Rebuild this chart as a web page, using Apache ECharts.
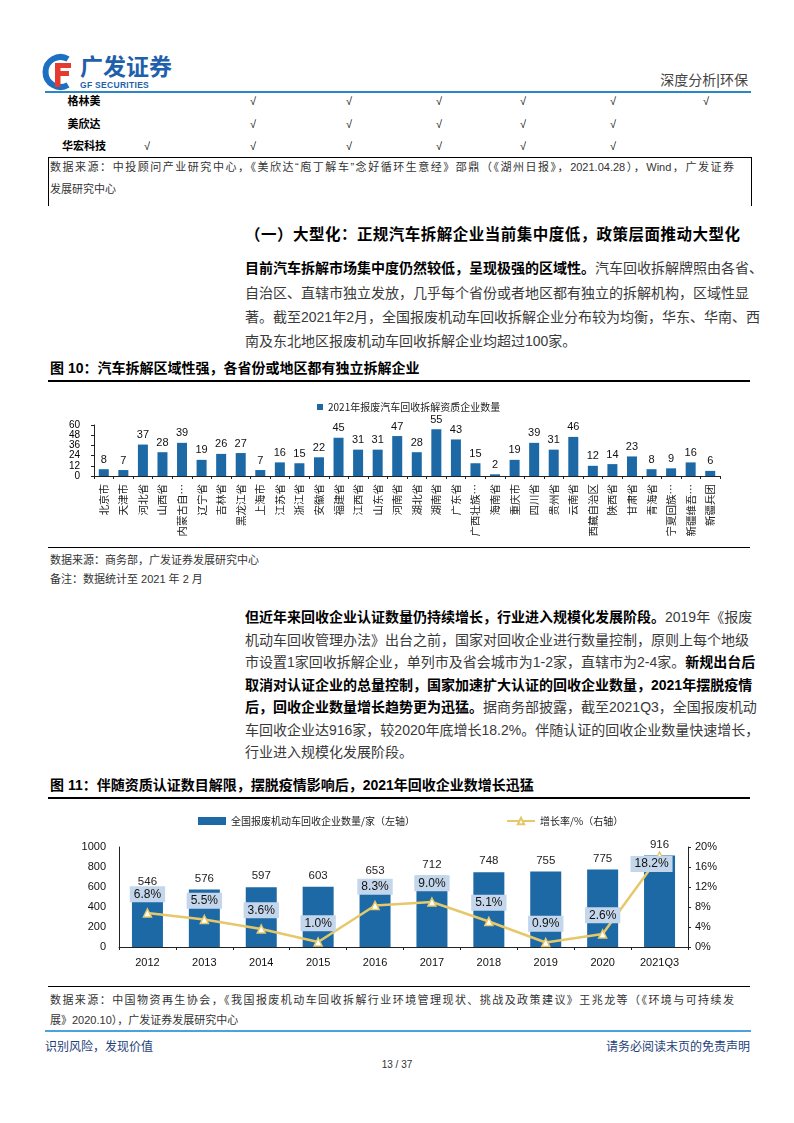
<!DOCTYPE html>
<html>
<head>
<meta charset="utf-8">
<title>汽车拆解</title>
<script src="https://cdn.jsdelivr.net/npm/echarts@6.0.0/dist/echarts.min.js"></script>
<style>
  body { margin: 0; background: #fff; }
  #page { position: relative; width: 794px; height: 1123px; background: #fff; overflow: hidden;
    font-family: "Liberation Sans", "Noto Sans CJK SC", sans-serif; color: #333; }
  .t { position: absolute; white-space: nowrap; line-height: 20px; }
  .j { text-align: justify; text-align-last: justify; }
  .p { font-size: 14px; color: #3a3a3a; }
  .p b { color: #000; }
  .src { font-size: 11px; color: #333; }
  .hr { position: absolute; left: 48px; width: 702px; background: #000; }
  .chk { position: absolute; font-size: 11px; color: #000; line-height: 14px; }
  .rowlab { position: absolute; font-size: 11px; font-weight: bold; color: #000; width: 60px; text-align: center; line-height: 14px; }
  .chart { position: absolute; left: 0; width: 794px; }
</style>
</head>
<body>
<div id="page">
  <!-- header -->
  <svg style="position:absolute;left:42px;top:52px" width="36" height="40" viewBox="0 0 36 40">
    <path d="M26 7 A15 15 0 1 0 26 33" fill="none" stroke="#1d6fc0" stroke-width="6"/>
    <path d="M13 11 H29 V16 H18.5 V19 H27 V24 H18.5 V35 H13 Z" fill="#e53a2f"/>
  </svg>
  <div class="t" style="left:80px;top:52px;font-size:23px;font-weight:bold;color:#1f5fab;line-height:30px;">广发证券</div>
  <div class="t" style="left:80px;top:80px;font-size:8.5px;font-weight:bold;color:#1f5fab;line-height:10px;letter-spacing:0.3px;">GF SECURITIES</div>
  <div class="t" style="right:46px;top:70px;font-size:14px;color:#444;">深度分析|环保</div>
  <div style="position:absolute;left:45px;top:91px;width:706px;height:2px;background:#2a86c8;"></div>

  <!-- table tail -->
  <div class="rowlab" style="left:54px;top:94px;">格林美</div>
  <div class="rowlab" style="left:54px;top:117px;">美欣达</div>
  <div class="rowlab" style="left:54px;top:139px;">华宏科技</div>
  <div id="checks"></div>

  <div style="position:absolute;left:48px;top:157px;width:702px;height:48px;border:1px solid #000;border-bottom:none;"></div>
  <div class="t src j" style="left:50px;top:157px;width:684px;">数据来源：中投顾问产业研究中心，《美欣达“庖丁解车”念好循环生意经》邵鼎（《湖州日报》，2021.04.28），Wind，广发证券</div>
  <div class="t src" style="left:50px;top:179px;">发展研究中心</div>

  <!-- section heading -->
  <div class="t j" style="left:245px;top:225px;width:495px;font-size:15.5px;font-weight:bold;color:#000;">（一）大型化：正规汽车拆解企业当前集中度低，政策层面推动大型化</div>

  <div class="t p j" style="left:245px;top:258px;width:503px;"><b>目前汽车拆解市场集中度仍然较低，呈现极强的区域性。</b>汽车回收拆解牌照由各省、</div>
  <div class="t p j" style="left:245px;top:283px;width:503px;">自治区、直辖市独立发放，几乎每个省份或者地区都有独立的拆解机构，区域性显</div>
  <div class="t p j" style="left:245px;top:307px;width:503px;">著。截至2021年2月，全国报废机动车回收拆解企业分布较为均衡，华东、华南、西</div>
  <div class="t p" style="left:245px;top:331px;">南及东北地区报废机动车回收拆解企业均超过100家。</div>

  <!-- figure 10 -->
  <div class="t" style="left:50px;top:358px;font-size:14px;font-weight:bold;color:#000;">图 10：汽车拆解区域性强，各省份或地区都有独立拆解企业</div>
  <div class="hr" style="top:380px;height:1.5px;"></div>
  <div id="chart10" class="chart" style="top:385px;height:160px;"></div>
  <div class="hr" style="top:547px;height:1px;"></div>
  <div class="t src" style="left:50px;top:550px;">数据来源：商务部，广发证券发展研究中心</div>
  <div class="t src" style="left:50px;top:569px;">备注：数据统计至 2021 年 2 月</div>

  <div class="t p j" style="left:245px;top:607px;width:503px;"><b>但近年来回收企业认证数量仍持续增长，行业进入规模化发展阶段。</b>2019年《报废</div>
  <div class="t p j" style="left:245px;top:630px;width:503px;">机动车回收管理办法》出台之前，国家对回收企业进行数量控制，原则上每个地级</div>
  <div class="t p j" style="left:245px;top:652px;width:503px;">市设置1家回收拆解企业，单列市及省会城市为1-2家，直辖市为2-4家。<b>新规出台后</b></div>
  <div class="t p j" style="left:245px;top:675px;width:503px;"><b>取消对认证企业的总量控制，国家加速扩大认证的回收企业数量，2021年摆脱疫情</b></div>
  <div class="t p j" style="left:245px;top:697px;width:503px;"><b>后，回收企业数量增长趋势更为迅猛。</b>据商务部披露，截至2021Q3，全国报废机动</div>
  <div class="t p j" style="left:245px;top:720px;width:503px;">车回收企业达916家，较2020年底增长18.2%。伴随认证的回收企业数量快速增长，</div>
  <div class="t p" style="left:245px;top:742px;">行业进入规模化发展阶段。</div>

  <!-- figure 11 -->
  <div class="t" style="left:50px;top:775px;font-size:14px;font-weight:bold;color:#000;">图 11：伴随资质认证数目解限，摆脱疫情影响后，2021年回收企业数增长迅猛</div>
  <div class="hr" style="top:797px;height:1.5px;"></div>
  <div id="chart11" class="chart" style="top:805px;height:180px;"></div>
  <div class="hr" style="top:986px;height:1px;"></div>
  <div class="t src j" style="left:50px;top:990px;width:684px;">数据来源：中国物资再生协会，《我国报废机动车回收拆解行业环境管理现状、挑战及政策建议》王兆龙等（《环境与可持续发</div>
  <div class="t src" style="left:50px;top:1010px;">展》2020.10），广发证券发展研究中心</div>

  <!-- footer -->
  <div style="position:absolute;left:45px;top:1030px;width:706px;height:2px;background:#4aa3df;"></div>
  <div class="t" style="left:45px;top:1037px;font-size:12px;color:#1f3f7a;">识别风险，发现价值</div>
  <div class="t" style="right:44px;top:1037px;font-size:12px;color:#1f3f7a;">请务必阅读末页的免责声明</div>
  <div class="t" style="left:0;width:794px;text-align:center;top:1055px;font-size:10px;color:#333;">13 / 37</div>
</div>

<script>
// 表格尾部的勾选
const checkCols = [148, 254, 350, 440, 524, 614, 707];
const checkRows = [
  { y: 94, cols: [1, 2, 3, 4, 5, 6] },
  { y: 117, cols: [1, 2, 3, 4, 5] },
  { y: 139, cols: [0, 1, 2, 3, 4, 5] }
];

// 图10 数据
const provinces = ['北京市', '天津市', '河北省', '山西省', '内蒙古自治区', '辽宁省', '吉林省', '黑龙江省',
  '上海市', '江苏省', '浙江省', '安徽省', '福建省', '江西省', '山东省', '河南省', '湖北省', '湖南省',
  '广东省', '广西壮族自治区', '海南省', '重庆市', '四川省', '贵州省', '云南省', '西藏自治区',
  '陕西省', '甘肃省', '青海省', '宁夏回族自治区', '新疆维吾尔自治区', '新疆兵团'];
const plantCounts = [8, 7, 37, 28, 39, 19, 26, 27, 7, 16, 15, 22, 45, 31, 31, 47, 28, 55,
  43, 15, 2, 19, 39, 31, 46, 12, 14, 23, 8, 9, 16, 6];

// 图11 数据
const years = ['2012', '2013', '2014', '2015', '2016', '2017', '2018', '2019', '2020', '2021Q3'];
const recyclerCounts = [546, 576, 597, 603, 653, 712, 748, 755, 775, 916];
const growthRates = [6.8, 5.5, 3.6, 1.0, 8.3, 9.0, 5.1, 0.9, 2.6, 18.2];

const checksBox = document.getElementById('checks');
checkRows.forEach(row => {
  row.cols.forEach(c => {
    const d = document.createElement('div');
    d.className = 'chk';
    d.style.left = (checkCols[c] - 4) + 'px';
    d.style.top = row.y + 'px';
    d.textContent = '√';
    checksBox.appendChild(d);
  });
});

const numFont = 'Liberation Sans';
const blue = '#1c69a6';
const gold = '#e6c86a';

const chart10 = echarts.init(document.getElementById('chart10'));
chart10.setOption({
  animation: false,
  legend: {
    left: 312,
    top: 12,
    itemWidth: 6,
    itemHeight: 6,
    icon: 'rect',
    textStyle: { fontSize: 10, color: '#222', fontFamily: 'Noto Sans CJK SC' },
    data: ['2021年报废汽车回收拆解资质企业数量']
  },
  grid: { left: 94, top: 40, width: 626, height: 51 },
  xAxis: {
    type: 'category',
    data: provinces,
    axisLine: { lineStyle: { color: '#222', width: 1 } },
    axisTick: { show: true, inside: false, length: 3, lineStyle: { color: '#222' } },
    axisLabel: {
      interval: 0,
      rotate: 90,
      margin: 8,
      fontSize: 10.5,
      color: '#222',
      fontFamily: 'Noto Sans CJK SC',
      formatter: v => v.length > 5 ? v.slice(0, 4) + '…' : v
    }
  },
  yAxis: {
    type: 'value',
    min: 0,
    max: 60,
    interval: 12,
    splitLine: { show: false },
    axisLine: { show: true, lineStyle: { color: '#222' } },
    axisTick: { show: true, length: 3, lineStyle: { color: '#222' } },
    axisLabel: { fontSize: 10, color: '#000', margin: 14, fontFamily: numFont }
  },
  series: [{
    name: '2021年报废汽车回收拆解资质企业数量',
    type: 'bar',
    data: plantCounts,
    barWidth: 10,
    itemStyle: { color: blue },
    label: {
      show: true,
      position: 'top',
      distance: 4,
      fontSize: 11,
      color: '#111',
      fontFamily: numFont
    }
  }]
});

const chart11 = echarts.init(document.getElementById('chart11'));
chart11.setOption({
  animation: false,
  legend: [{
    left: 193,
    top: 6,
    itemWidth: 28,
    itemHeight: 8,
    icon: 'rect',
    textStyle: { fontSize: 10, color: '#222', fontFamily: 'Noto Sans CJK SC' },
    data: ['全国报废机动车回收企业数量/家（左轴）']
  }, {
    left: 501,
    top: 6,
    itemWidth: 28,
    itemHeight: 8,
    textStyle: { fontSize: 10, color: '#222', fontFamily: 'Noto Sans CJK SC' },
    data: ['增长率/%（右轴）']
  }],
  grid: { left: 119, top: 42, width: 569, height: 100 },
  xAxis: {
    type: 'category',
    data: years,
    axisLine: { lineStyle: { color: '#222' } },
    axisTick: { show: true, length: 3, lineStyle: { color: '#222' } },
    axisLabel: { fontSize: 11, color: '#111', margin: 10, fontFamily: numFont }
  },
  yAxis: [{
    type: 'value',
    min: 0,
    max: 1000,
    interval: 200,
    splitLine: { show: false },
    axisLine: { show: true, lineStyle: { color: '#222' } },
    axisTick: { show: false },
    axisLabel: { fontSize: 11, color: '#111', margin: 13, fontFamily: numFont, formatter: v => String(v) }
  }, {
    type: 'value',
    min: 0,
    max: 20,
    interval: 4,
    position: 'right',
    splitLine: { show: false },
    axisLine: { show: true, lineStyle: { color: '#222' } },
    axisTick: { show: true, length: 3, lineStyle: { color: '#222' } },
    axisLabel: { fontSize: 11, color: '#111', margin: 7, fontFamily: numFont, formatter: '{value}%' }
  }],
  series: [{
    name: '全国报废机动车回收企业数量/家（左轴）',
    type: 'bar',
    data: recyclerCounts,
    barWidth: 31,
    itemStyle: { color: blue },
    label: {
      show: true,
      position: 'top',
      distance: 5,
      fontSize: 11.5,
      color: '#222',
      fontFamily: numFont
    }
  }, {
    name: '增长率/%（右轴）',
    type: 'line',
    yAxisIndex: 1,
    data: growthRates.map((v, i) => i === growthRates.length - 1
      ? { value: v, label: { position: 'inside', offset: [-8, 8] } }
      : v),
    z: 5,
    symbol: 'triangle',
    symbolSize: 8,
    lineStyle: { color: gold, width: 2.5 },
    itemStyle: { color: '#fff', borderColor: gold, borderWidth: 1.5 },
    label: {
      show: true,
      position: 'top',
      distance: 6,
      fontSize: 12,
      color: '#111',
      fontFamily: numFont,
      backgroundColor: '#c3d6eb',
      padding: [2, 4],
      formatter: p => p.value.toFixed(1) + '%'
    }
  }]
});
</script>
</body>
</html>
